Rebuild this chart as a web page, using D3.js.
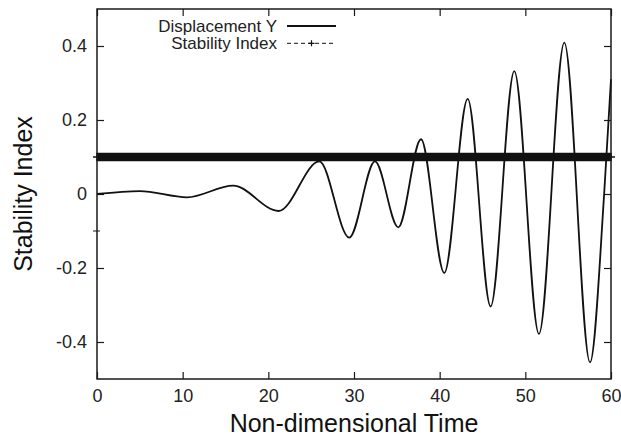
<!DOCTYPE html>
<html>
<head>
<meta charset="utf-8">
<script src="https://cdn.jsdelivr.net/npm/d3@7/dist/d3.min.js"></script>
<style>
  html, body { margin: 0; padding: 0; background: #fff; }
  svg { display: block; font-family: "Liberation Sans", Arial, Helvetica, sans-serif; }
</style>
</head>
<body>
<svg id="chart" width="621" height="437"></svg>
<script>
// Displacement Y: turning points of the oscillation over non-dimensional time
const dispTime = [0, 5.0, 10.5, 15.9, 21.2, 25.95, 29.45, 32.45, 35.17, 37.82, 40.54, 43.27, 45.95, 48.71, 51.59, 54.55, 57.55, 59.2, 60];
const dispY    = [0, 0.008, -0.009, 0.0225, -0.046, 0.088, -0.118, 0.088, -0.09, 0.148, -0.213, 0.257, -0.304, 0.332, -0.378, 0.409, -0.455, 0.0, 0.31];

// Stability index: constant level, sampled densely so its "+" points merge
const stabilityLevel = 0.1;
const stabilityTimes = d3.range(0, 60.0001, 0.1);

// Axis ticks
const xTicks = [0, 10, 20, 30, 40, 50, 60];
const xTickLabels = ["0", "10", "20", "30", "40", "50", "60"];
const yTicks = [-0.4, -0.2, 0, 0.2, 0.4];
const yTickLabels = ["-0.4", "-0.2", "0", "0.2", "0.4"];
const yMinorTicks = [-0.1];

const seriesNames = ["Displacement Y", "Stability Index"];

const svg = d3.select("#chart");
const W = 621, H = 437;
const m = { left: 97, right: 10, top: 9, bottom: 58 };

const x = d3.scaleLinear().domain([0, 60]).range([m.left, W - m.right]);
const y = d3.scaleLinear().domain([-0.5, 0.5]).range([H - m.bottom, m.top]);

svg.append("rect").attr("width", W).attr("height", H).attr("fill", "#fff");

const ink = "#1a1a1a";

// Axes (ticks pointing inward, labels only on bottom and left)
function styleAxis(g) {
  g.select(".domain").remove();
  g.selectAll(".tick line").attr("stroke", ink).attr("stroke-width", 1.2);
  g.selectAll(".tick text").attr("fill", "#222").style("font-size", "18px");
}

svg.append("g")
  .attr("transform", `translate(0,${y(-0.5)})`)
  .call(d3.axisBottom(x).tickValues(xTicks).tickFormat((d, i) => xTickLabels[i])
    .tickSizeInner(-7).tickSizeOuter(0).tickPadding(10))
  .call(styleAxis);

svg.append("g")
  .attr("transform", `translate(0,${y(0.5)})`)
  .call(d3.axisTop(x).tickValues(xTicks).tickFormat("")
    .tickSizeInner(-7).tickSizeOuter(0))
  .call(styleAxis);

svg.append("g")
  .attr("transform", `translate(${x(0)},0)`)
  .call(d3.axisLeft(y).tickValues(yTicks).tickFormat((d, i) => yTickLabels[i])
    .tickSizeInner(-7).tickSizeOuter(0).tickPadding(10))
  .call(styleAxis);

svg.append("g")
  .attr("transform", `translate(${x(60)},0)`)
  .call(d3.axisRight(y).tickValues(yTicks).tickFormat("")
    .tickSizeInner(-7).tickSizeOuter(0))
  .call(styleAxis);

// small crossing tick on the left border
svg.append("g").selectAll("line").data(yMinorTicks).join("line")
  .attr("x1", x(0) - 4).attr("x2", x(0) + 3)
  .attr("y1", d => y(d)).attr("y2", d => y(d))
  .attr("stroke", ink).attr("stroke-width", 1);

// Displacement curve
const line = d3.line()
  .x((d, i) => x(dispTime[i]))
  .y(d => y(d))
  .curve(d3.curveMonotoneX);

svg.append("path")
  .datum(dispY)
  .attr("d", line)
  .attr("fill", "none")
  .attr("stroke", "#111")
  .attr("stroke-width", 1.8);

// Stability index: dashed line with "+" markers
const plus = (cx, cy, hw, hh) => `M${cx - hw},${cy}h${2 * hw}M${cx},${cy - hh}v${2 * hh}`;

svg.append("path")
  .datum(stabilityTimes)
  .attr("d", d3.line().x(t => x(t)).y(() => y(stabilityLevel)))
  .attr("fill", "none").attr("stroke", "#111").attr("stroke-width", 1)
  .attr("stroke-dasharray", "4,3");

svg.append("path")
  .attr("d", stabilityTimes.map(t => plus(x(t), y(stabilityLevel), 4, 4.3)).join(""))
  .attr("fill", "none").attr("stroke", "#111").attr("stroke-width", 1.5);

// Frame
svg.append("rect")
  .attr("x", x(0)).attr("y", y(0.5))
  .attr("width", x(60) - x(0)).attr("height", y(-0.5) - y(0.5))
  .attr("fill", "none").attr("stroke", ink).attr("stroke-width", 1.5);

// Legend
const legend = svg.append("g");
const lgTextX = 277, lgX1 = 287, lgX2 = 336;
const rows = [26, 43.3];

legend.selectAll("text").data(seriesNames).join("text")
  .attr("x", lgTextX).attr("y", (d, i) => rows[i] + 6)
  .attr("text-anchor", "end")
  .attr("fill", "#222")
  .style("font-size", "17px")
  .text(d => d);

legend.append("line")
  .attr("x1", lgX1).attr("x2", lgX2).attr("y1", rows[0]).attr("y2", rows[0])
  .attr("stroke", "#111").attr("stroke-width", 1.8);

legend.append("line")
  .attr("x1", lgX1).attr("x2", lgX2).attr("y1", rows[1]).attr("y2", rows[1])
  .attr("stroke", "#111").attr("stroke-width", 1).attr("stroke-dasharray", "4,3");

legend.append("path")
  .attr("d", plus((lgX1 + lgX2) / 2, rows[1], 3, 3))
  .attr("stroke", "#111").attr("stroke-width", 1.2);

// Axis titles
svg.append("text")
  .attr("x", (x(0) + x(60)) / 2).attr("y", 432)
  .attr("text-anchor", "middle")
  .attr("fill", "#111")
  .style("font-size", "25px")
  .text("Non-dimensional Time");

svg.append("text")
  .attr("transform", `translate(32,${(y(0.5) + y(-0.5)) / 2}) rotate(-90)`)
  .attr("text-anchor", "middle")
  .attr("fill", "#111")
  .style("font-size", "25px")
  .text("Stability Index");
</script>
</body>
</html>
